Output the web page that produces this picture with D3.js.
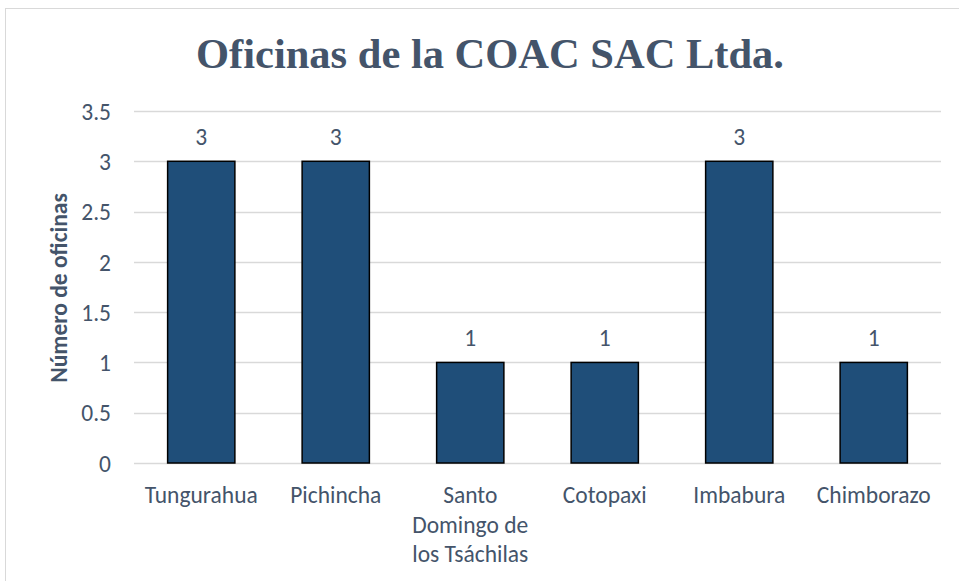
<!DOCTYPE html>
<html><head><meta charset="utf-8">
<script src="https://cdn.jsdelivr.net/npm/d3@7"></script>
<style>body{margin:0;background:#fff;}svg{display:block;}</style>
</head><body>
<script>
const categories = ["Tungurahua", "Pichincha", "Santo Domingo de los Tsáchilas", "Cotopaxi", "Imbabura", "Chimborazo"];
const categoryLines = [["Tungurahua"], ["Pichincha"], ["Santo", "Domingo de", "los Tsáchilas"], ["Cotopaxi"], ["Imbabura"], ["Chimborazo"]];
const values = [3, 3, 1, 1, 3, 1];
const yTicks = [0, 0.5, 1, 1.5, 2, 2.5, 3, 3.5];
const title = "Oficinas de la COAC SAC Ltda.";
const yTitle = "Número de oficinas";

const W = 959, H = 581;
const svg = d3.select("body").append("svg").attr("width", W).attr("height", H);
svg.append("rect").attr("x", 5.5).attr("y", 8.5).attr("width", W + 10).attr("height", H + 10)
  .attr("fill", "#fff").attr("stroke", "#D9D9D9").attr("stroke-width", 1);

const x = d3.scaleBand().domain(categories).range([134, 941]).padding(0.5).paddingOuter(0.25);
const y = d3.scaleLinear().domain([0, 3.5]).range([463, 111]);

const font = "Calibri, Carlito, 'Open Sans', sans-serif";
const txtColor = "#44546A";
const fs = 23.5;

// gridlines
svg.append("g").selectAll("line").data(yTicks).join("line")
  .attr("x1", 134).attr("x2", 941)
  .attr("y1", d => Math.round(y(d)) + 0.5).attr("y2", d => Math.round(y(d)) + 0.5)
  .attr("stroke", "#D9D9D9").attr("stroke-width", 1.3);

// y axis labels
const yAxis = d3.axisLeft(y).tickValues(yTicks).tickSize(0).tickPadding(0).tickFormat(d3.format("~g"));
const ya = svg.append("g").attr("transform", "translate(111,0)").call(yAxis);
ya.select(".domain").remove();
ya.selectAll("text").attr("font-family", font).attr("font-size", fs).attr("fill", txtColor).attr("dy", "0.35em");

// bars
svg.append("g").selectAll("rect").data(values).join("rect")
  .attr("x", (d, i) => x(categories[i]))
  .attr("y", d => y(d))
  .attr("width", x.bandwidth())
  .attr("height", d => y(0) - y(d))
  .attr("fill", "#1F4E79").attr("stroke", "#000").attr("stroke-width", 1.5);

// data labels
svg.append("g").selectAll("text").data(values).join("text")
  .attr("x", (d, i) => x(categories[i]) + x.bandwidth() / 2)
  .attr("y", d => y(d) - 16)
  .attr("text-anchor", "middle").attr("font-family", font).attr("font-size", fs).attr("fill", txtColor)
  .text(d => d);

// category labels
const xa = svg.append("g");
categoryLines.forEach((lines, i) => {
  const t = xa.append("text").attr("text-anchor", "middle").attr("font-family", font)
    .attr("font-size", fs).attr("fill", txtColor);
  lines.forEach((l, j) => {
    t.append("tspan").attr("x", x(categories[i]) + x.bandwidth() / 2).attr("y", 503 + j * 29.5).text(l);
  });
});

// title
svg.append("text").attr("x", 490).attr("y", 68).attr("text-anchor", "middle")
  .attr("font-family", "'Liberation Serif', 'Times New Roman', serif").attr("font-weight", "bold")
  .attr("font-size", 42.5).attr("fill", "#44546A").text(title);

// y title
svg.append("text").attr("transform", "translate(67,288) rotate(-90)").attr("text-anchor", "middle")
  .attr("font-family", font).attr("font-weight", "bold").attr("font-size", fs).attr("fill", txtColor)
  .text(yTitle);
</script>
</body></html>
